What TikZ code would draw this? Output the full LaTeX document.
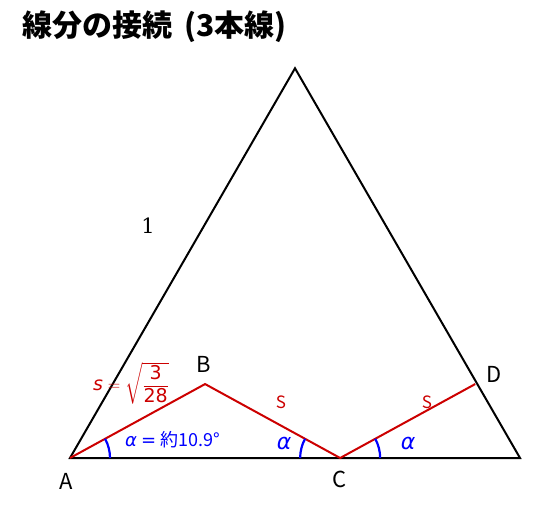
\documentclass[tikz,border=0pt]{standalone}
\usepackage{amsmath}
\usepackage{fontspec}
\setmainfont{Noto Sans CJK JP}
\newfontfamily\numfont{DejaVu Serif}
\newfontfamily\mtfont{DejaVu Sans}
\newcommand\mt[1]{{\mtfont\itshape #1}}
\usepackage{tikz}
\usetikzlibrary{calc}
\colorlet{dred}{red!80!black}
\colorlet{dblue}{blue}
\tikzstyle{side}=[line width=2pt,black]
\tikzstyle{seg}=[line width=2pt,dred]
\tikzstyle{ang}=[line width=2.2pt,dblue]
\tikzstyle{pt}=[font=\fontsize{22}{24}\selectfont,inner sep=0pt]
\tikzstyle{slab}=[font=\fontsize{17}{20}\selectfont,text=dred,inner sep=0pt]
\tikzstyle{alab}=[font=\fontsize{22}{24}\selectfont,text=dblue,inner sep=0pt]

\begin{document}
\begin{tikzpicture}[x=1pt,y=1pt]
  \useasboundingbox (0,0) rectangle (537,520);
  \coordinate (A) at (70,62);
  \coordinate (E) at (520,62);
  \coordinate (T) at ($(A)!1!60:(E)$);
  \coordinate (B) at ($(A)+(28.7:154)$);
  \coordinate (C) at ($(B)+(-28.7:154)$);
  \coordinate (D) at ($(C)+(28.7:154)$);
  \draw[side,line join=miter] (A) -- (E) -- (T) -- cycle;
  \draw[seg] (A) -- (B) -- (C) -- (D);
  \draw[ang] ($(A)+(40,0)$) arc[start angle=0,end angle=28.7,radius=40];
  \draw[ang] ($(C)+(-40,0)$) arc[start angle=180,end angle=151.3,radius=40];
  \draw[ang] ($(C)+(40,0)$) arc[start angle=0,end angle=28.7,radius=40];
  \node[font=\bfseries\fontsize{30}{33}\selectfont,anchor=west,inner sep=0pt] (title) at (22,493) {線分の接続\hspace{0.4em}(3本線)};
  \node[font=\numfont\fontsize{21}{24}\selectfont,inner sep=0pt] (one) at (148,294) {1};
  \node[pt] (lA) at (66,39) {A};
  \node[pt] (lB) at (204,156) {B};
  \node[pt] (lC) at (340,41) {C};
  \node[pt] (lD) at (494,146) {D};
  \node[slab] (sBC) at (281,118) {S};
  \node[slab] (sCD) at (427,118) {S};
  \node[text=dred,font=\fontsize{19}{22}\selectfont,anchor=west,inner sep=0pt] (sval) at (93,137)
    {$\text{\mt{s}}=\sqrt{\dfrac{\text{\mtfont 3}}{\text{\mtfont 28}}}$};
  \node[text=dblue,font=\fontsize{18}{20}\selectfont,anchor=west,inner sep=0pt] (aval) at (125,80)
    {\mt{α} {\mtfont=} 約10.9°};
  \node[alab] (aL) at (284,77) {\mt{α}};
  \node[alab] (aR) at (408,77) {\mt{α}};
\end{tikzpicture}
\end{document}
